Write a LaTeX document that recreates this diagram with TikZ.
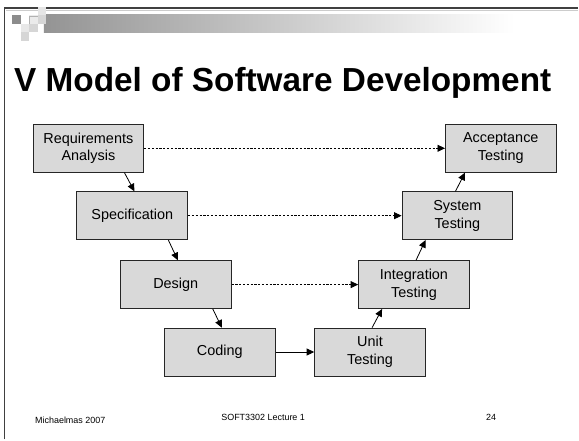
\documentclass[tikz,border=0pt]{standalone}
\usepackage{fontspec}
\setmainfont{Liberation Sans}
\usetikzlibrary{arrows.meta}

\begin{document}
\begin{tikzpicture}[x=1bp, y=-1bp, >={Triangle[length=7.5bp, width=7bp]},
	stage/.style={draw=black!85, fill=black!15, line width=0.8bp, minimum width=111bp, minimum height=48bp, inner sep=0pt, align=center, font=\fontsize{14.5}{17.8}\selectfont},
	flow/.style={->, line width=0.8bp},
	link/.style={->, line width=0.8bp, dash pattern=on 2.2bp off 1.6bp},
	foot/.style={inner sep=0pt, font=\fontsize{9}{11}\selectfont}]
	% page and slide frame
	\fill[white] (0,0) rectangle (579,440);
	\draw[black!20, line width=1.2bp] (6.5,10.5) -- (579,10.5);
	\draw[black!75, line width=1.6bp] (4.5,440) -- (4.5,8) -- (579,8);
	% header bar and squares
	\shade[left color=black!42, right color=white] (44,15) rectangle (515,33);
	\foreach \c/\r/\s in {0/1/45, 2/1/8, 3/0/10, 3/1/16, 1/2/9, 2/2/16, 1/3/16}
		\fill[black!\s] ({12+8.6*\c},{7+8.5*\r}) rectangle +(8.6,8.5);
	\draw[black!30, line width=0.6bp] (29.5,24.5) -- (29.5,16.3) -- (38,16.3);
	\node[anchor=base west, inner sep=0pt, font=\fontsize{33.5}{38}\selectfont\bfseries] (title) at (14,92) {V Model of Software Development};
	% left branch
	\node[stage] (ra) at (88.5,148.5) {Requirements\\Analysis};
	\node[stage] (spec) at (132.5,216) {Specification};
	\node[stage] (des) at (176,285) {Design};
	\node[stage] (cod) at (220,352.5) {Coding};
	% right branch
	\node[stage] (unit) at (370.5,352.5) {Unit\\Testing};
	\node[stage] (integ) at (414.5,285) {Integration\\Testing};
	\node[stage] (sys) at (458,216) {System\\Testing};
	\node[stage] (acc) at (501.5,148.5) {Acceptance\\Testing};
	\draw[flow] ([xshift=92bp]ra.south west) -- ([xshift=58bp]spec.north west);
	\draw[flow] ([xshift=92bp]spec.south west) -- ([xshift=58bp]des.north west);
	\draw[flow] ([xshift=93bp]des.south west) -- ([xshift=58bp]cod.north west);
	\draw[flow] (cod) -- (unit);
	\draw[flow] ([xshift=58bp]unit.north west) -- ([xshift=24bp]integ.south west);
	\draw[flow] ([xshift=58bp]integ.north west) -- ([xshift=24bp]sys.south west);
	\draw[flow] ([xshift=54bp]sys.north west) -- ([xshift=20bp]acc.south west);
	% verification links
	\draw[link] (ra) -- (acc);
	\draw[link] (spec) -- (sys);
	\draw[link] (des) -- (integ);
	% footer
	\node[foot, anchor=base west] (term) at (35,424) {Michaelmas 2007};
	\node[foot, anchor=base] (course) at (263.5,421) {SOFT3302 Lecture 1};
	\node[foot, anchor=base east] (page) at (497,421) {24};
\end{tikzpicture}
\end{document}
